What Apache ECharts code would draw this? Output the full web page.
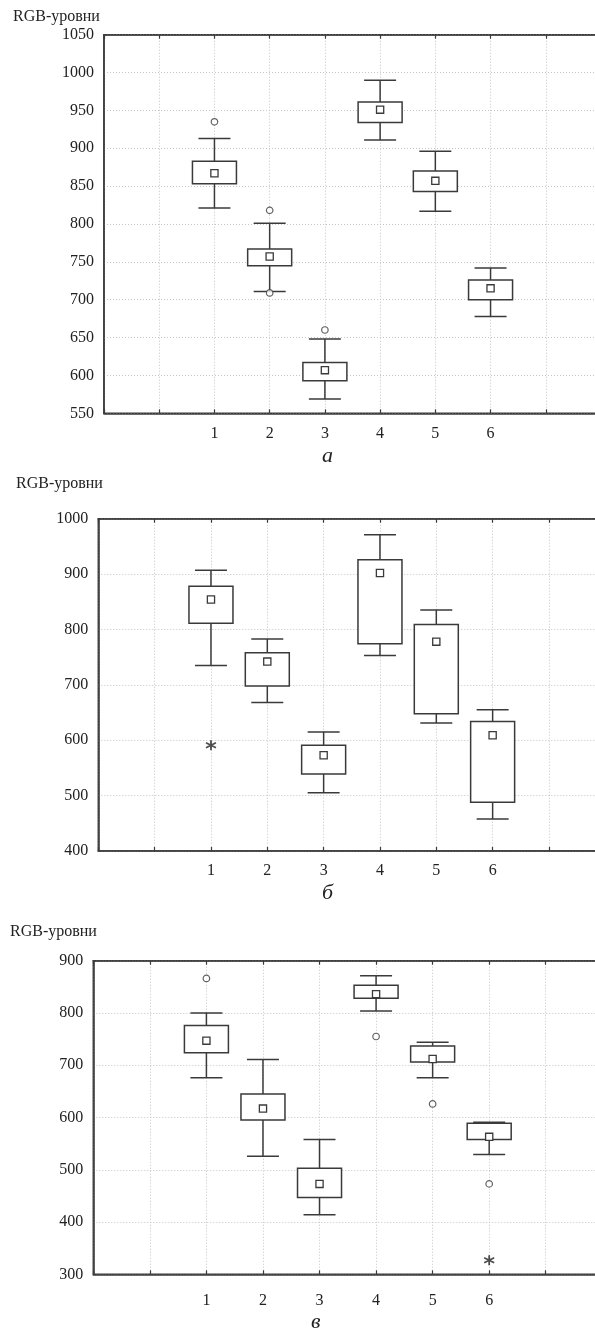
<!DOCTYPE html>
<html>
<head>
<meta charset="utf-8">
<script src="https://cdn.jsdelivr.net/npm/echarts@6/dist/echarts.min.js"></script>
<style>
  html, body { margin: 0; padding: 0; background: #fff; }
  #chart { width: 595px; height: 1335px; }
</style>
</head>
<body>
<div id="chart"></div>
<script>
// groups on the x axis (drawn at positions 2..7, empty slots on both sides)
const categories = ['1', '2', '3', '4', '5', '6'];

// panel а
const aWhiskerLow = [821, 711, 569, 911, 817, 678];
const aBoxLow = [853, 745, 593, 934, 843, 700];
const aMean = [867, 757, 607, 951, 857, 715];
const aBoxHigh = [883, 767, 617, 961, 870, 726];
const aWhiskerHigh = [913, 801, 648, 990, 896, 742];
const aOutliers = [['1', 935], ['2', 818], ['2', 709], ['3', 660]];
const aExtremes = [];

// panel б
const bWhiskerLow = [735, 668, 505, 753, 631, 458];
const bBoxLow = [811, 698, 539, 774, 648, 488];
const bMean = [854, 742, 573, 902, 778, 609];
const bBoxHigh = [878, 758, 591, 926, 809, 634];
const bWhiskerHigh = [907, 783, 615, 971, 835, 655];
const bOutliers = [];
const bExtremes = [['1', 591]];

// panel в
const vWhiskerLow = [676, 526, 414, 804, 676, 529];
const vBoxLow = [724, 595, 447, 828, 706, 558];
const vMean = [747, 617, 473, 836, 712, 563];
const vBoxHigh = [776, 645, 503, 853, 737, 589];
const vWhiskerHigh = [800, 711, 558, 871, 744, 591];
const vOutliers = [['1', 866], ['4', 755], ['5', 626], ['6', 473]];
const vExtremes = [['6', 327]];

// y axis ranges
const aTicks = { min: 550, max: 1050, interval: 50 };
const bTicks = { min: 400, max: 1000, interval: 100 };
const vTicks = { min: 300, max: 900, interval: 100 };

const yTitle = 'RGB-уровни';
const panelLetters = ['а', 'б', 'в'];

const INK = '#3a3a3a';
const FONT = '"Liberation Serif", "DejaVu Serif", serif';

const panels = [
  { grid: { left: 104, top: 34.7, width: 497, height: 378.6 }, ticks: aTicks, labelMargin: 12,
    wl: aWhiskerLow, bl: aBoxLow, mean: aMean, bh: aBoxHigh, wh: aWhiskerHigh, out: aOutliers, ext: aExtremes },
  { grid: { left: 98.3, top: 518.7, width: 507, height: 332.3 }, ticks: bTicks, labelMargin: 12,
    wl: bWhiskerLow, bl: bBoxLow, mean: bMean, bh: bBoxHigh, wh: bWhiskerHigh, out: bOutliers, ext: bExtremes },
  { grid: { left: 93.3, top: 960.7, width: 509, height: 313.6 }, ticks: vTicks, labelMargin: 18,
    wl: vWhiskerLow, bl: vBoxLow, mean: vMean, bh: vBoxHigh, wh: vWhiskerHigh, out: vOutliers, ext: vExtremes }
];

const xPos = (cat) => categories.indexOf(cat) + 2;

const grids = [], xAxes = [], yAxes = [], series = [];

panels.forEach((p, i) => {
  grids.push(Object.assign({
    show: true, borderColor: INK, borderWidth: 1.5, backgroundColor: '#fff',
    outerBoundsMode: 'none', containLabel: false
  }, p.grid));

  xAxes.push({
    type: 'value', gridIndex: i, min: 0, max: 9, interval: 1, position: 'bottom',
    axisLine: { show: true, onZero: false, lineStyle: { color: INK, width: 1.6 } },
    axisTick: { show: true, inside: true, length: 4, lineStyle: { color: INK, width: 1.2 } },
    axisLabel: {
      margin: p.labelMargin, color: '#222', fontFamily: FONT, fontSize: 16,
      formatter: (v) => categories[v - 2] || ''
    },
    splitLine: { show: true, lineStyle: { color: '#c4c4c4', type: [1, 2], width: 1 } }
  });
  // top frame line and ticks
  xAxes.push({
    type: 'value', gridIndex: i, min: 0, max: 9, interval: 1, position: 'top',
    axisLine: { show: true, onZero: false, lineStyle: { color: INK, width: 1.6 } },
    axisTick: { show: true, inside: true, length: 4, lineStyle: { color: INK, width: 1.2 } },
    axisLabel: { show: false },
    splitLine: { show: false }
  });

  yAxes.push({
    type: 'value', gridIndex: i, min: p.ticks.min, max: p.ticks.max, interval: p.ticks.interval,
    axisLine: { show: true, lineStyle: { color: INK, width: 1.6 } },
    axisTick: { show: false },
    axisLabel: { margin: 10, color: '#222', fontFamily: FONT, fontSize: 16, formatter: (v) => String(v) },
    splitLine: { show: true, lineStyle: { color: '#c4c4c4', type: [1, 2], width: 1 } }
  });

  const boxData = categories.map((c, k) => [xPos(c), p.wl[k], p.bl[k], p.mean[k], p.bh[k], p.wh[k]]);

  series.push({
    type: 'custom',
    xAxisIndex: i * 2, yAxisIndex: i,
    data: boxData,
    encode: { x: 0, y: [1, 2, 3, 4, 5] },
    renderItem: (params, api) => {
      const x = api.coord([api.value(0), 0])[0];
      const yWl = api.coord([0, api.value(1)])[1];
      const yBl = api.coord([0, api.value(2)])[1];
      const yMean = api.coord([0, api.value(3)])[1];
      const yBh = api.coord([0, api.value(4)])[1];
      const yWh = api.coord([0, api.value(5)])[1];
      const half = 22, cap = 16, sq = 3.6;
      const ls = { stroke: INK, lineWidth: 1.5, fill: null };
      return {
        type: 'group',
        children: [
          { type: 'line', shape: { x1: x, y1: yWh, x2: x, y2: yBh }, style: ls },
          { type: 'line', shape: { x1: x, y1: yBl, x2: x, y2: yWl }, style: ls },
          { type: 'line', shape: { x1: x - cap, y1: yWh, x2: x + cap, y2: yWh }, style: ls },
          { type: 'line', shape: { x1: x - cap, y1: yWl, x2: x + cap, y2: yWl }, style: ls },
          { type: 'rect', shape: { x: x - half, y: yBh, width: half * 2, height: yBl - yBh },
            style: { stroke: INK, lineWidth: 1.5, fill: '#fff' } },
          { type: 'rect', shape: { x: x - sq, y: yMean - sq, width: sq * 2, height: sq * 2 },
            style: { stroke: INK, lineWidth: 1.3, fill: '#fff' } }
        ]
      };
    },
    z: 5
  });

  series.push({
    type: 'scatter',
    xAxisIndex: i * 2, yAxisIndex: i,
    data: p.out.map(o => [xPos(o[0]), o[1]]),
    symbol: 'circle', symbolSize: 6.5,
    itemStyle: { color: '#fff', borderColor: INK, borderWidth: 1.2 },
    z: 6
  });

  series.push({
    type: 'scatter',
    xAxisIndex: i * 2, yAxisIndex: i,
    data: p.ext.map(o => [xPos(o[0]), o[1]]),
    symbol: 'path://M5,0 L5,10 M0.7,2.5 L9.3,7.5 M0.7,7.5 L9.3,2.5',
    symbolSize: 10,
    itemStyle: { color: 'none', borderColor: '#222', borderWidth: 1.8 },
    z: 6
  });
});

const graphics = [
  { type: 'text', left: 13, top: 9, style: { text: yTitle, font: '16px ' + FONT, fill: '#222' } },
  { type: 'text', left: 16, top: 476, style: { text: yTitle, font: '16px ' + FONT, fill: '#222' } },
  { type: 'text', left: 10, top: 924, style: { text: yTitle, font: '16px ' + FONT, fill: '#222' } },
  { type: 'text', left: 322, top: 445, style: { text: panelLetters[0], font: 'italic 22px ' + FONT, fill: '#222' } },
  { type: 'text', left: 322, top: 882, style: { text: panelLetters[1], font: 'italic 22px ' + FONT, fill: '#222' } },
  { type: 'text', left: 311, top: 1311, style: { text: panelLetters[2], font: 'italic 22px ' + FONT, fill: '#222' } }
];

const chart = echarts.init(document.getElementById('chart'), null, { renderer: 'canvas' });
chart.setOption({
  animation: false,
  backgroundColor: '#fff',
  grid: grids,
  xAxis: xAxes,
  yAxis: yAxes,
  series: series,
  graphic: graphics
});
</script>
</body>
</html>
